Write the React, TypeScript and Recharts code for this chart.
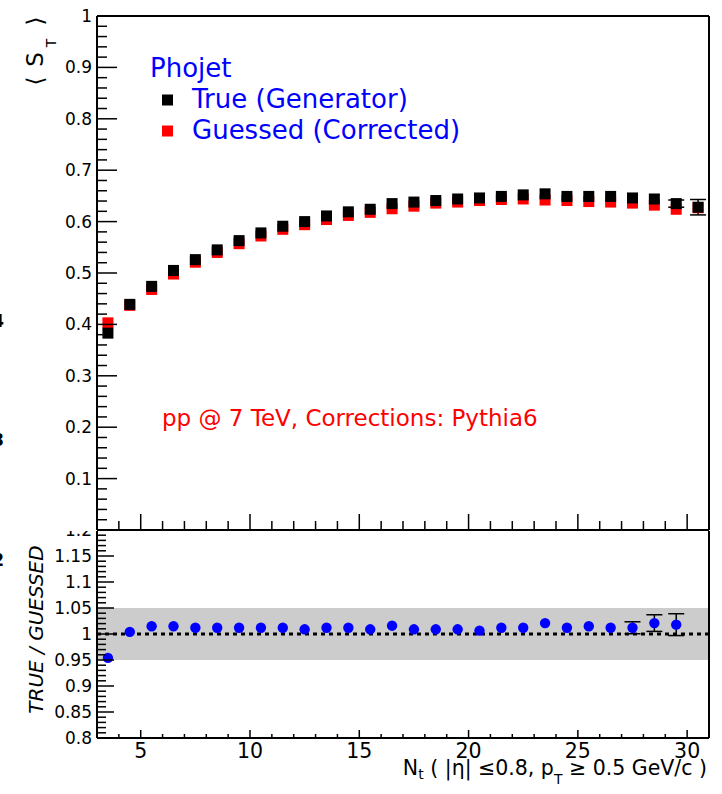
import {
  ScatterChart,
  Scatter,
  XAxis,
  YAxis,
  ErrorBar,
  ReferenceArea,
  ReferenceLine,
} from "recharts";

const FONT = "'DejaVu Sans', sans-serif";

// N_t bin centres (top panel)
const ntBins = [
  3.5, 4.5, 5.5, 6.5, 7.5, 8.5, 9.5, 10.5, 11.5, 12.5, 13.5, 14.5, 15.5, 16.5,
  17.5, 18.5, 19.5, 20.5, 21.5, 22.5, 23.5, 24.5, 25.5, 26.5, 27.5, 28.5, 29.5, 30.5,
];
// <S_T> True (Generator)
const trueST = [
  0.383, 0.439, 0.474, 0.505, 0.526, 0.545, 0.563, 0.578, 0.591, 0.6, 0.611, 0.619, 0.624, 0.635,
  0.638, 0.641, 0.644, 0.646, 0.649, 0.652, 0.654, 0.649, 0.649, 0.649, 0.646, 0.644, 0.635, 0.628,
];
const trueErr = [
  0, 0, 0, 0, 0, 0, 0, 0, 0, 0, 0, 0, 0, 0,
  0, 0, 0, 0, 0, 0, 0, 0, 0, 0, 0, 0, 0.007, 0.015,
];
// <S_T> Guessed (Corrected)
const guessedST = [
  0.403, 0.437, 0.468, 0.498, 0.521, 0.54, 0.557, 0.572, 0.585, 0.594, 0.604, 0.612, 0.618, 0.625,
  0.63, 0.636, 0.638, 0.641, 0.643, 0.644, 0.642, 0.641, 0.639, 0.638, 0.636, 0.632, 0.624, 0.627,
];

// ratio panel
const ratioBins = [
  3.5, 4.5, 5.5, 6.5, 7.5, 8.5, 9.5, 10.5, 11.5, 12.5, 13.5, 14.5, 15.5, 16.5,
  17.5, 18.5, 19.5, 20.5, 21.5, 22.5, 23.5, 24.5, 25.5, 26.5, 27.5, 28.5, 29.5,
];
const ratioVals = [
  0.954, 1.004, 1.015, 1.015, 1.012, 1.012, 1.012, 1.012, 1.012, 1.009, 1.012, 1.012, 1.009, 1.016,
  1.009, 1.009, 1.009, 1.0065, 1.012, 1.012, 1.021, 1.012, 1.015, 1.012, 1.012, 1.021, 1.018,
];
const ratioErr = [
  0, 0, 0, 0, 0, 0, 0, 0, 0, 0, 0, 0, 0, 0,
  0, 0, 0, 0, 0, 0, 0, 0, 0, 0, 0.0115, 0.016, 0.021,
];

// axis labels
const xMajor = [5, 10, 15, 20, 25, 30];
const xLabels = ["5", "10", "15", "20", "25", "30"];
const topYMajor = [0, 0.1, 0.2, 0.3, 0.4, 0.5, 0.6, 0.7, 0.8, 0.9, 1];
const topYLabels = ["", "0.1", "0.2", "0.3", "0.4", "0.5", "0.6", "0.7", "0.8", "0.9", "1"];
const botYMajor = [0.8, 0.85, 0.9, 0.95, 1, 1.05, 1.1, 1.15, 1.2];
const botYLabels = ["0.8", "0.85", "0.9", "0.95", "1", "1.05", "1.1", "1.15", "1.2"];

// minor tick positions
const xTicks = Array.from({ length: 29 }, (_, i) => 3 + i);
const topYTicks = Array.from({ length: 51 }, (_, i) => (i * 2) / 100);
const botYTicks = Array.from({ length: 41 }, (_, i) => (80 + i) / 100);

const topData = ntBins.map((x, i) => ({ x, y: trueST[i], err: trueErr[i] }));
const guessData = ntBins.map((x, i) => ({ x, y: guessedST[i] }));
const ratioData = ratioBins.map((x, i) => ({ x, y: ratioVals[i], err: ratioErr[i] }));

type Side = "bottom" | "top" | "left" | "right";

function makeTick(
  side: Side,
  majors: number[],
  labels: string[] | null,
  majLen: number,
  minLen: number,
  fontSize = 17
) {
  return (props: any) => {
    const { x, y, payload } = props;
    const v = payload.value;
    const idx = majors.findIndex((m) => Math.abs(m - v) < 1e-6);
    const len = idx >= 0 ? majLen : minLen;
    let x2 = x;
    let y2 = y;
    if (side === "bottom") y2 = y - len;
    if (side === "top") y2 = y + len;
    if (side === "left") x2 = x + len;
    if (side === "right") x2 = x - len;
    let label = null;
    if (labels && idx >= 0 && labels[idx]) {
      if (side === "bottom") {
        label = (
          <text x={x} y={y + 20} textAnchor="middle" fontSize={fontSize} fontFamily={FONT} fill="#000">
            {labels[idx]}
          </text>
        );
      } else if (side === "left") {
        label = (
          <text x={x - 5} y={y + 6} textAnchor="end" fontSize={fontSize} fontFamily={FONT} fill="#000">
            {labels[idx]}
          </text>
        );
      }
    }
    return (
      <g>
        <line x1={x} y1={y} x2={x2} y2={y2} stroke="#000" strokeWidth={1.5} />
        {label}
      </g>
    );
  };
}

const axisLine = { stroke: "#000", strokeWidth: 2 };

function TopPanel() {
  return (
    <ScatterChart width={722} height={531} margin={{ top: 15, right: 12, bottom: 0, left: 96 }}>
      <XAxis
        xAxisId="b"
        type="number"
        dataKey="x"
        domain={[3, 31]}
        ticks={xTicks}
        interval={0}
        height={1}
        tickSize={0}
        tickMargin={0}
        tickLine={false}
        axisLine={axisLine}
        tick={makeTick("bottom", xMajor, null, 16, 9)}
      />
      <XAxis
        xAxisId="t"
        orientation="top"
        type="number"
        domain={[3, 31]}
        ticks={xTicks}
        interval={0}
        height={1}
        tickSize={0}
        tickMargin={0}
        tickLine={false}
        axisLine={axisLine}
        tick={makeTick("top", xMajor, null, 15, 8)}
      />
      <YAxis
        yAxisId="l"
        type="number"
        dataKey="y"
        domain={[0, 1]}
        ticks={topYTicks}
        interval={0}
        width={1}
        tickSize={0}
        tickMargin={0}
        tickLine={false}
        axisLine={axisLine}
        tick={makeTick("left", topYMajor, topYLabels, 20, 10, 17)}
      />
      <YAxis
        yAxisId="r"
        orientation="right"
        type="number"
        domain={[0, 1]}
        ticks={topYTicks}
        interval={0}
        width={1}
        tickSize={0}
        tickMargin={0}
        tickLine={false}
        axisLine={axisLine}
        tick={makeTick("right", topYMajor, null, 20, 10)}
      />
      <Scatter
        xAxisId="b"
        yAxisId="l"
        data={guessData}
        isAnimationActive={false}
        shape={(p: any) => (
          <rect x={p.cx - 5.5} y={p.cy - 5.5} width={11} height={11} fill="#ff0000" />
        )}
      />
      <Scatter
        xAxisId="b"
        yAxisId="l"
        data={topData}
        isAnimationActive={false}
        shape={(p: any) => (
          <rect x={p.cx - 5.5} y={p.cy - 5.5} width={11} height={11} fill="#000" />
        )}
      >
        <ErrorBar dataKey="err" direction="y" width={8} stroke="#000" strokeWidth={1.5} />
      </Scatter>
    </ScatterChart>
  );
}

function RatioPanel() {
  return (
    <ScatterChart width={722} height={794} margin={{ top: 529, right: 12, bottom: 55, left: 96 }}>
      <XAxis
        xAxisId="b"
        type="number"
        dataKey="x"
        domain={[3, 31]}
        ticks={xTicks}
        interval={0}
        height={1}
        tickSize={0}
        tickMargin={0}
        tickLine={false}
        axisLine={axisLine}
        tick={makeTick("bottom", xMajor, xLabels, 8, 4, 20.5)}
      />
      <XAxis
        xAxisId="t"
        orientation="top"
        type="number"
        domain={[3, 31]}
        ticks={xTicks}
        interval={0}
        height={1}
        tickSize={0}
        tickMargin={0}
        tickLine={false}
        axisLine={axisLine}
        tick={makeTick("top", xMajor, null, 8, 4)}
      />
      <YAxis
        yAxisId="l"
        type="number"
        dataKey="y"
        domain={[0.8, 1.2]}
        ticks={botYTicks}
        interval={0}
        width={1}
        tickSize={0}
        tickMargin={0}
        tickLine={false}
        axisLine={axisLine}
        tick={makeTick("left", botYMajor, botYLabels, 17, 9, 17)}
      />
      <YAxis
        yAxisId="r"
        orientation="right"
        type="number"
        domain={[0.8, 1.2]}
        ticks={botYTicks}
        interval={0}
        width={1}
        tickSize={0}
        tickMargin={0}
        tickLine={false}
        axisLine={axisLine}
        tick={makeTick("right", botYMajor, null, 15, 8)}
      />
      <ReferenceArea
        xAxisId="b"
        yAxisId="l"
        y1={0.95}
        y2={1.05}
        fill="#cccccc"
        fillOpacity={1}
        stroke="none"
      />
      <ReferenceLine
        xAxisId="b"
        yAxisId="l"
        y={1}
        stroke="#000"
        strokeWidth={3}
        strokeDasharray="4 4"
      />
      <Scatter
        xAxisId="b"
        yAxisId="l"
        data={ratioData}
        isAnimationActive={false}
        shape={(p: any) => <circle cx={p.cx} cy={p.cy} r={5.2} fill="#0000ff" />}
      >
        <ErrorBar dataKey="err" direction="y" width={8} stroke="#000" strokeWidth={1.5} />
      </Scatter>
    </ScatterChart>
  );
}

function Overlay() {
  return (
    <svg
      width={722}
      height={794}
      style={{ position: "absolute", left: 0, top: 0, zIndex: 3, pointerEvents: "none" }}
      fontFamily={FONT}
    >
      {/* stray labels cut by the left edge */}
      <text x={4} y={327} textAnchor="end" fontSize={17} fontWeight="bold">0.4</text>
      <text x={4} y={446} textAnchor="end" fontSize={17} fontWeight="bold">0.3</text>
      <text x={4} y={566} textAnchor="end" fontSize={17} fontWeight="bold">0.2</text>

      {/* <S_T> title */}
      <text transform="translate(43,81) rotate(-90)" textAnchor="middle" fontSize={23}>⟨</text>
      <text transform="translate(43,59.5) rotate(-90)" textAnchor="middle" fontSize={23}>S</text>
      <text transform="translate(56,43) rotate(-90)" textAnchor="middle" fontSize={14}>T</text>
      <text transform="translate(43,21) rotate(-90)" textAnchor="middle" fontSize={23}>⟩</text>

      <text
        transform="translate(43,629.5) rotate(-90)"
        textAnchor="middle"
        fontSize={20}
        fontStyle="italic"
      >
        TRUE / GUESSED
      </text>

      {/* legend */}
      <text x={150} y={77} fontSize={26} fill="#0000ff">Phojet</text>
      <rect x={162} y={94.5} width={11} height={11} fill="#000" />
      <text x={192} y={108} fontSize={26} fill="#0000ff">True (Generator)</text>
      <rect x={162} y={125.5} width={11} height={11} fill="#ff0000" />
      <text x={192} y={139} fontSize={26} fill="#0000ff">Guessed (Corrected)</text>

      <text x={162} y={426} fontSize={23} fill="#ff0000">pp @ 7 TeV, Corrections: Pythia6</text>

      {/* x title */}
      <text x={707} y={775} textAnchor="end" fontSize={20.5}>
        N<tspan fontSize={14} dy={4}>t</tspan>
        <tspan dy={-4}> ( |η| ≤0.8, p</tspan>
        <tspan fontSize={14} dy={9}>T</tspan>
        <tspan dy={-9}> ≥ 0.5 GeV/c )</tspan>
      </text>
    </svg>
  );
}

export default function App() {
  return (
    <div
      style={{
        position: "absolute",
        left: 0,
        top: 0,
        width: 722,
        height: 794,
        background: "#fff",
        overflow: "hidden",
      }}
    >
      <div style={{ position: "absolute", left: 0, top: 0, zIndex: 1 }}>
        <RatioPanel />
      </div>
      <div style={{ position: "absolute", left: 0, top: 0, zIndex: 2, background: "#fff" }}>
        <TopPanel />
      </div>
      <Overlay />
    </div>
  );
}
